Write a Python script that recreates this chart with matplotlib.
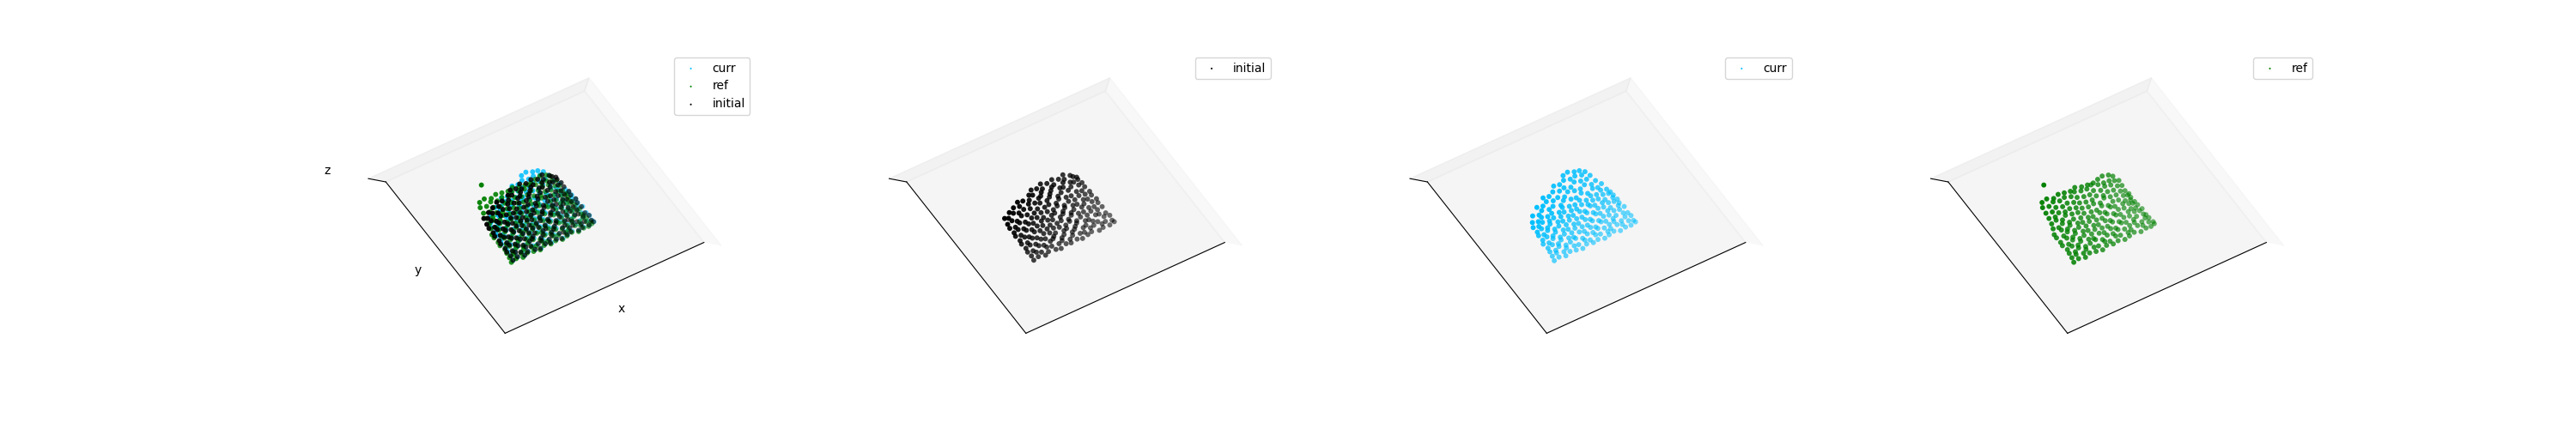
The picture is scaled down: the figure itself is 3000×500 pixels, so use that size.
import matplotlib
matplotlib.use("Agg")
import matplotlib.pyplot as plt
from matplotlib.colors import to_rgb

# Hand-estimated sparse sample of each cloud, read from its outline and shading.
# Rows run along x, from the low-y edge of the cloud to its curved high-y edge.
initial_x = [
    243, 270, 301, 322, 356, 378, 410, 431, 464, 486, 517, 539, 572, 594, 626, 652,
    247, 276, 295, 329, 350, 384, 404, 438, 458, 492, 511, 546, 566, 601, 620, 648,
    244, 268, 304, 324, 359, 376, 412, 429, 467, 483, 520, 537, 575, 591, 629, 654,
    249, 274, 297, 331, 348, 386, 402, 440, 456, 494, 509, 548, 564, 603, 618, 646,
    245, 271, 302, 320, 357, 381, 409, 433, 463, 488, 516, 541, 571, 596, 625, 651,
    250, 277, 294, 328, 352, 383, 405, 436, 459, 490, 512, 544, 567, 599, 621, 647,
    246, 269, 303, 325, 355, 377, 411, 430, 466, 485, 519, 538, 574, 592, 628, 653,
    251, 275, 298, 330, 349, 385, 403, 439, 457, 493, 510, 547, 565, 602, 619, 645,
    248, 272, 300, 323, 358, 379, 408, 434, 462, 487, 515, 542, 570, 597, 624, 649,
    252, 278, 296, 327, 351, 382, 406, 437, 460, 491, 513, 545, 568, 600, 622, 644,
    258, 273, 305, 326, 354, 380, 413, 432, 465, 484, 518, 540, 573, 593, 627, 646,
    292, 321, 347, 387, 401, 441, 455, 495, 508, 549, 563, 604, 617, 640,
    352, 375, 414, 428, 468, 482, 521, 536, 576, 590, 630, 642,
    437, 461, 489, 514, 543, 569, 598, 623,
]
initial_y = [
    338, 345, 336, 347, 341, 334, 346, 339, 344, 335, 342, 348, 337, 343, 340, 346,
    364, 371, 360, 373, 366, 362, 370, 359, 372, 365, 361, 369, 374, 363, 367, 358,
    391, 385, 397, 388, 393, 399, 384, 395, 389, 398, 386, 392, 396, 383, 394, 387,
    413, 420, 411, 424, 416, 409, 422, 414, 419, 410, 423, 415, 412, 421, 417, 408,
    443, 436, 448, 439, 445, 435, 450, 441, 437, 447, 434, 444, 438, 449, 442, 446,
    463, 470, 461, 474, 467, 460, 472, 465, 469, 459, 473, 466, 462, 471, 464, 475,
    494, 487, 499, 490, 496, 486, 501, 492, 488, 498, 485, 495, 489, 500, 493, 497,
    514, 521, 512, 525, 518, 511, 523, 516, 520, 510, 524, 517, 513, 522, 515, 526,
    545, 538, 550, 541, 547, 537, 552, 543, 539, 549, 536, 546, 540, 551, 544, 548,
    569, 577, 563, 580, 572, 565, 578, 570, 574, 564, 579, 571, 567, 576, 568, 581,
    604, 596, 610, 599, 606, 595, 612, 601, 597, 609, 594, 605, 600, 611, 603, 607,
    622, 636, 629, 621, 638, 627, 633, 623, 637, 630, 626, 635, 628, 632,
    654, 648, 663, 655, 650, 664, 652, 659, 649, 662, 656, 645,
    683, 677, 692, 680, 688, 675, 687, 668,
]
initial_z = [
    36, 33, 30, 27, 24, 21, 18, 15, 12, 10, 8, 6, 4, 3, 1, 0,
    41, 38, 35, 31, 28, 25, 22, 19, 16, 13, 11, 9, 7, 5, 3, 1,
    46, 43, 39, 36, 33, 29, 26, 23, 20, 17, 14, 12, 9, 7, 5, 3,
    51, 47, 44, 40, 37, 34, 30, 27, 24, 21, 18, 15, 13, 10, 8, 6,
    55, 52, 48, 45, 41, 38, 35, 31, 28, 25, 22, 19, 16, 14, 11, 9,
    60, 56, 53, 49, 46, 42, 39, 36, 32, 29, 26, 23, 20, 17, 14, 12,
    65, 61, 57, 54, 50, 47, 43, 40, 37, 33, 30, 27, 24, 21, 18, 16,
    70, 66, 62, 59, 55, 51, 48, 44, 41, 38, 34, 31, 28, 25, 22, 19,
    75, 71, 67, 63, 60, 56, 52, 49, 45, 42, 39, 35, 32, 29, 26, 23,
    80, 76, 72, 68, 64, 61, 57, 53, 50, 46, 43, 40, 36, 33, 30, 27,
    85, 81, 77, 73, 69, 65, 62, 58, 54, 51, 47, 44, 41, 37, 34, 31,
    82, 78, 74, 70, 66, 63, 59, 55, 52, 48, 45, 42, 38, 35,
    79, 75, 71, 68, 64, 60, 56, 53, 49, 46, 43, 40,
    65, 61, 57, 54, 50, 47, 44, 41,
]

curr_x = [
    240, 268, 297, 325, 352, 381, 408, 437, 463, 492, 518, 546, 572, 601, 627, 653,
    246, 271, 302, 322, 357, 377, 413, 433, 468, 488, 523, 542, 577, 597, 631, 650,
    250, 276, 299, 329, 354, 384, 410, 440, 465, 495, 520, 549, 574, 604, 629, 655,
    254, 280, 305, 326, 360, 380, 416, 436, 471, 491, 526, 545, 580, 600, 634, 651,
    248, 273, 300, 331, 355, 386, 411, 442, 466, 497, 521, 551, 575, 606, 630, 656,
    258, 283, 308, 328, 363, 383, 419, 438, 474, 493, 529, 547, 583, 602, 637, 648,
    256, 279, 304, 334, 358, 389, 414, 445, 469, 500, 524, 554, 578, 609, 633, 652,
    262, 287, 312, 332, 367, 387, 422, 442, 477, 497, 532, 551, 586, 605, 640, 649,
    260, 284, 309, 339, 363, 393, 418, 449, 473, 504, 528, 558, 582, 612, 636, 647,
    272, 296, 320, 345, 369, 399, 425, 454, 479, 509, 534, 563, 588, 616, 641,
    292, 318, 340, 371, 394, 426, 449, 481, 504, 536, 559, 591, 613, 638,
    332, 358, 383, 411, 437, 464, 490, 518, 545, 572, 599, 625,
    382, 408, 435, 462, 488, 515, 542, 569, 596, 620,
    455, 481, 508, 536, 562, 590, 612,
    520, 546, 572, 594,
]
curr_y = [
    336, 343, 334, 346, 339, 332, 345, 337, 342, 333, 340, 347, 335, 341, 338, 344,
    362, 369, 358, 371, 364, 360, 368, 357, 370, 363, 359, 367, 372, 361, 365, 356,
    389, 383, 395, 386, 391, 397, 382, 393, 387, 396, 384, 390, 394, 381, 392, 385,
    411, 418, 409, 422, 414, 407, 420, 412, 417, 408, 421, 413, 410, 419, 415, 406,
    441, 434, 446, 437, 443, 433, 448, 439, 435, 445, 432, 442, 436, 447, 440, 444,
    461, 468, 459, 472, 465, 458, 470, 463, 467, 457, 471, 464, 460, 469, 462, 473,
    492, 485, 497, 488, 494, 484, 499, 490, 486, 496, 483, 493, 487, 498, 491, 495,
    512, 519, 510, 523, 516, 509, 521, 514, 518, 508, 522, 515, 511, 520, 513, 524,
    543, 536, 548, 539, 545, 535, 550, 541, 537, 547, 534, 544, 538, 549, 542, 546,
    569, 560, 574, 564, 571, 559, 576, 566, 561, 573, 558, 570, 563, 575, 567,
    600, 590, 606, 595, 602, 589, 607, 597, 592, 604, 588, 601, 594, 605,
    632, 625, 639, 628, 634, 622, 640, 630, 626, 637, 623, 633,
    664, 658, 672, 661, 667, 655, 673, 663, 659, 670,
    698, 692, 704, 695, 700, 690, 699,
    728, 735, 722, 716,
]
curr_z = [
    22, 20, 18, 16, 14, 12, 10, 9, 8, 6, 5, 4, 3, 2, 1, 0,
    28, 26, 23, 21, 19, 17, 15, 13, 12, 10, 9, 7, 6, 5, 3, 2,
    34, 31, 29, 26, 24, 22, 20, 18, 16, 14, 12, 11, 9, 8, 6, 5,
    41, 38, 35, 32, 30, 27, 25, 23, 21, 18, 16, 15, 13, 11, 9, 8,
    49, 45, 42, 39, 36, 33, 31, 28, 26, 23, 21, 19, 17, 15, 13, 11,
    58, 54, 50, 47, 43, 40, 37, 34, 31, 29, 26, 24, 22, 19, 17, 15,
    67, 63, 59, 55, 51, 48, 44, 41, 38, 35, 32, 29, 27, 24, 22, 19,
    76, 72, 68, 64, 60, 56, 52, 48, 45, 42, 38, 35, 33, 30, 27, 24,
    85, 81, 77, 73, 68, 64, 60, 56, 52, 48, 45, 42, 39, 36, 33, 30,
    92, 88, 84, 79, 75, 71, 66, 62, 58, 54, 51, 47, 44, 41, 38,
    95, 91, 86, 82, 77, 73, 68, 64, 60, 56, 53, 49, 46, 43,
    92, 87, 83, 78, 74, 69, 65, 61, 57, 54, 50, 47,
    88, 83, 79, 74, 70, 66, 62, 58, 55, 52,
    78, 74, 70, 66, 62, 59, 56,
    70, 66, 63, 60,
]

ref_x = [
    232, 260, 289, 317, 345, 374, 401, 430, 457, 486, 513, 541, 568, 597, 620, 640,
    238, 263, 294, 314, 350, 370, 406, 426, 462, 482, 518, 537, 573, 593, 625, 642,
    241, 268, 291, 321, 347, 377, 403, 433, 459, 489, 515, 544, 570, 600, 623, 638,
    245, 272, 297, 318, 353, 373, 409, 429, 465, 485, 521, 540, 576, 596, 628, 636,
    238, 265, 292, 323, 347, 379, 404, 435, 460, 491, 516, 546, 571, 602, 624, 639,
    241, 276, 301, 321, 356, 376, 412, 431, 468, 487, 524, 542, 579, 598, 617, 634,
    239, 271, 296, 327, 351, 382, 407, 438, 463, 494, 519, 549, 574, 605, 620, 632,
    240, 280, 305, 325, 360, 380, 415, 435, 471, 491, 527, 545, 582, 600, 622, 630,
    253, 277, 302, 332, 356, 386, 411, 442, 467, 498, 523, 552, 577, 608, 625, 634,
    262, 289, 313, 337, 365, 391, 419, 446, 474, 501, 529, 556, 583, 610, 628,
    268, 295, 320, 346, 372, 398, 425, 451, 480, 507, 534, 561, 587, 614, 632,
    272, 299, 325, 352, 379, 405, 432, 459, 486, 512, 539, 566, 592, 618, 635,
    276, 303, 331, 358, 385, 412, 438, 465, 492, 519, 546, 572, 598, 625,
    289, 316, 343, 371, 398, 425, 452, 479, 506, 533, 560, 586, 612,
    346,
]
ref_y = [
    332, 339, 330, 342, 335, 328, 341, 333, 338, 329, 336, 343, 331, 337, 334, 340,
    358, 365, 354, 367, 360, 356, 364, 353, 366, 359, 355, 363, 368, 357, 361, 352,
    385, 379, 391, 382, 387, 393, 378, 389, 383, 392, 380, 386, 390, 377, 388, 381,
    407, 414, 405, 418, 410, 403, 416, 408, 413, 404, 417, 409, 406, 415, 411, 402,
    437, 430, 442, 433, 439, 429, 444, 435, 431, 441, 428, 438, 432, 443, 436, 440,
    457, 464, 455, 468, 461, 454, 466, 459, 463, 453, 467, 460, 456, 465, 458, 469,
    488, 481, 493, 484, 490, 480, 495, 486, 482, 492, 479, 489, 483, 494, 487, 491,
    508, 515, 506, 519, 512, 505, 517, 510, 514, 504, 518, 511, 507, 516, 509, 520,
    539, 532, 544, 535, 541, 531, 546, 537, 533, 543, 530, 540, 534, 545, 538, 542,
    566, 574, 561, 577, 569, 563, 575, 567, 571, 560, 576, 568, 564, 573, 565,
    598, 591, 604, 594, 600, 590, 606, 596, 592, 603, 589, 599, 593, 605, 597,
    630, 622, 636, 625, 632, 621, 638, 627, 623, 635, 620, 631, 624, 637, 628,
    664, 656, 669, 659, 666, 655, 671, 661, 657, 668, 654, 650, 648, 662,
    690, 697, 684, 694, 688, 682, 691, 679, 675, 672, 680, 686, 677,
    770,
]
ref_z = [
    70, 66, 61, 56, 52, 47, 43, 39, 35, 31, 27, 24, 20, 17, 13, 10,
    68, 64, 59, 54, 50, 45, 41, 37, 33, 29, 25, 22, 18, 15, 12, 8,
    65, 61, 56, 52, 47, 43, 39, 35, 31, 27, 24, 20, 17, 14, 11, 7,
    62, 58, 54, 49, 45, 41, 37, 33, 29, 26, 22, 19, 16, 13, 10, 6,
    60, 56, 51, 47, 43, 39, 35, 31, 28, 25, 21, 18, 15, 12, 9, 5,
    62, 57, 53, 49, 45, 41, 37, 33, 30, 26, 23, 19, 16, 13, 10, 7,
    65, 60, 56, 52, 47, 43, 39, 35, 32, 28, 25, 21, 18, 15, 12, 9,
    68, 64, 59, 54, 50, 46, 42, 38, 34, 30, 27, 23, 20, 17, 14, 11,
    72, 67, 62, 58, 53, 49, 45, 41, 37, 33, 29, 26, 22, 19, 16, 13,
    76, 71, 66, 62, 57, 53, 48, 44, 40, 36, 33, 29, 26, 22, 19,
    80, 75, 70, 66, 61, 56, 52, 48, 44, 40, 36, 33, 29, 26, 23,
    84, 79, 74, 69, 65, 60, 56, 51, 47, 43, 40, 36, 33, 30, 27,
    88, 83, 78, 73, 69, 64, 60, 55, 51, 47, 43, 40, 37, 33,
    92, 87, 82, 78, 73, 68, 64, 60, 56, 52, 48, 44, 41,
    100,
]

series = {
    "curr": (curr_x, curr_y, curr_z, "deepskyblue"),
    "ref": (ref_x, ref_y, ref_z, "green"),
    "initial": (initial_x, initial_y, initial_z, "black"),
}
panels = [["curr", "ref", "initial"], ["initial"], ["curr"], ["ref"]]


def shaded(colour, z):
    # Depth shading like the reference: lower points are paler, but never faint.
    r, g, b = to_rgb(colour)
    top = max(z)
    return [(r, g, b, 0.55 + 0.45 * v / top) for v in z]


fig = plt.figure(figsize=(30, 5), dpi=100)
for i, names in enumerate(panels):
    ax = fig.add_subplot(1, 4, i + 1, projection="3d", computed_zorder=False)
    ax.apply_aspect = lambda position=None: None
    ax.set_box_aspect((1, 1, 1), zoom=0.945)
    for n in names:
        x, y, z, c = series[n]
        ax.scatter(x, y, z, s=18, color=shaded(c, z), label=n, linewidths=0,
                   depthshade=False)
    ax.set_xlim(0, 1000)
    ax.set_ylim(0, 1000)
    ax.set_zlim(0, 1000)
    ax.set_xticks([])
    ax.set_yticks([])
    ax.set_zticks([])
    ax.view_init(elev=90, azim=-120)
    leg = ax.legend(markerscale=0.35)
    for handle, n in zip(leg.legend_handles, names):
        handle.set_facecolor(series[n][3])
    if i == 0:
        ax.set_xlabel("x")
        ax.set_ylabel("y")
        ax.set_zlabel("z")
fig.savefig("out.png", dpi=100)
